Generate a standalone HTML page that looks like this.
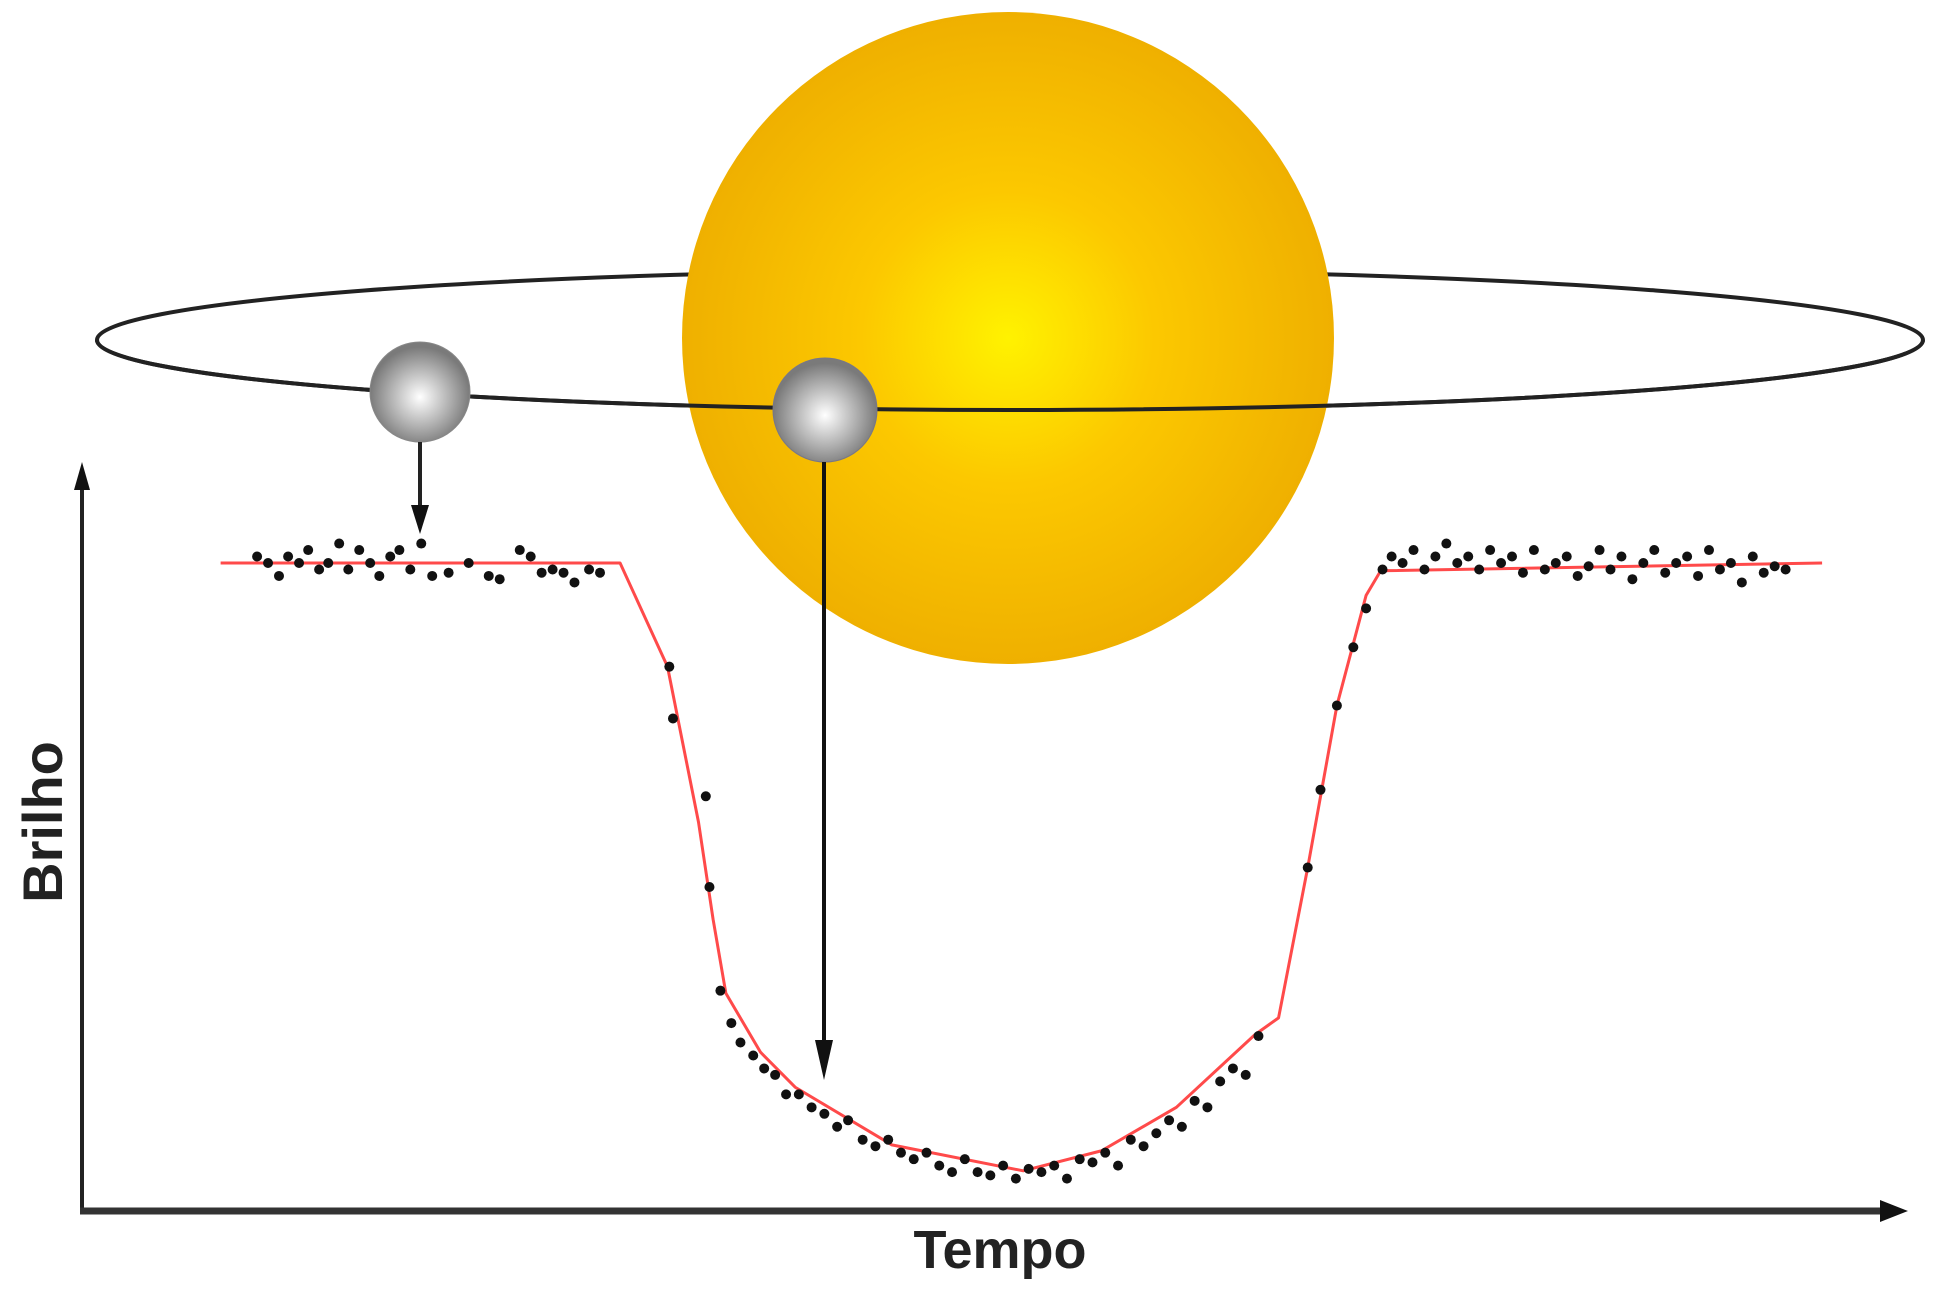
<!DOCTYPE html>
<html><head><meta charset="utf-8"><style>
html,body{margin:0;padding:0;background:#fff;}
svg{display:block;}
text{font-family:"Liberation Sans",sans-serif;font-weight:bold;fill:#222;}
</style></head><body>
<svg id="chart" width="1937" height="1304" viewBox="0 0 1937 1304">
<defs>
<radialGradient id="sunG" cx="0.5" cy="0.5" r="0.5">
<stop offset="0" stop-color="#fff200"/><stop offset="0.45" stop-color="#fcc800"/><stop offset="1" stop-color="#efb000"/>
</radialGradient>
<radialGradient id="plG" cx="0.5" cy="0.55" r="0.5">
<stop offset="0" stop-color="#ffffff"/><stop offset="0.6" stop-color="#b0b0b0"/><stop offset="1" stop-color="#7a7a7a"/>
</radialGradient>
</defs>
<ellipse cx="1010" cy="340" rx="913" ry="70" fill="none" stroke="#222" stroke-width="4"/>
<circle cx="1008" cy="338" r="326" fill="url(#sunG)"/>
<path d="M97,340 A913,70 0 0 0 1923,340" fill="none" stroke="#222" stroke-width="4"/>
<circle cx="420" cy="392" r="50" fill="url(#plG)" stroke="#888" stroke-width="1"/>
<circle cx="825" cy="410" r="52" fill="url(#plG)" stroke="#778" stroke-width="1"/>
<g>
<line x1="420" y1="442" x2="420" y2="510" stroke="#222" stroke-width="4"/>
<polygon points="411,505 429,505 420,534" fill="#111"/>
</g>
<g>
<line x1="824" y1="462" x2="824" y2="1050" stroke="#111" stroke-width="4"/>
<polygon points="815,1040 833,1040 824,1080" fill="#111"/>
</g>
<g>
<line x1="82" y1="478" x2="82" y2="1213" stroke="#222" stroke-width="4"/>
<polygon points="74,490 90,490 82,462" fill="#111"/>
</g>
<g>
<line x1="80" y1="1211" x2="1890" y2="1211" stroke="#333" stroke-width="7"/>
<polygon points="1880,1200 1880,1222 1908,1211" fill="#111"/>
</g>
<text x="1000" y="1268" font-size="54" text-anchor="middle">Tempo</text>
<text x="0" y="0" font-size="56" text-anchor="middle" transform="translate(62,822) rotate(-90)">Brilho</text>
<g id="plot"></g>
</svg>
<script>
// model curve (time, relative flux)
const modelT = [7.6, 29.5, 32.1, 33.8, 34.6, 35.3, 37.2, 39.1, 44.4, 51.6, 55.9, 60.0, 64.3, 65.6, 67.2, 68.8, 70.4, 71.2, 95.4];
const modelF = [1.0, 1.0, 0.84, 0.60, 0.45, 0.336, 0.245, 0.191, 0.102, 0.062, 0.093, 0.160, 0.272, 0.298, 0.53, 0.78, 0.95, 0.988, 1.0];
// observed points
const obsT = [9.6,10.2,10.8,11.3,11.9,12.4,13.0,13.5,14.1,14.6,15.2,15.8,16.3,16.9,17.4,18.0,18.6,19.2,20.1,21.2,22.3,22.9,24.0,24.6,25.2,25.8,26.4,27.0,27.8,28.4,
32.2,32.4,34.2,34.4,35.0,35.6,36.1,36.8,37.4,38.0,38.6,39.3,40.0,40.7,41.4,42.0,42.8,43.5,44.2,44.9,45.6,46.3,47.0,47.7,48.4,49.1,49.8,50.5,51.2,51.9,52.6,53.3,54.0,54.7,55.4,56.1,56.8,57.5,58.2,58.9,59.6,60.3,61.0,61.7,62.4,63.1,63.8,64.5,
67.2,67.9,68.8,69.7,70.4,71.3,71.8,72.4,73.0,73.6,74.2,74.8,75.4,76.0,76.6,77.2,77.8,78.4,79.0,79.6,80.2,80.8,81.4,82.0,82.6,83.2,83.8,84.4,85.0,85.6,86.2,86.8,87.4,88.0,88.6,89.2,89.8,90.4,91.0,91.6,92.2,92.8,93.4];
const obsF = [1.01,1.0,0.98,1.01,1.0,1.02,0.99,1.0,1.03,0.99,1.02,1.0,0.98,1.01,1.02,0.99,1.03,0.98,0.985,1.0,0.98,0.975,1.02,1.01,0.985,0.99,0.985,0.97,0.99,0.985,
0.84,0.76,0.64,0.50,0.34,0.29,0.26,0.24,0.22,0.21,0.18,0.18,0.16,0.15,0.13,0.14,0.11,0.10,0.11,0.09,0.08,0.09,0.07,0.06,0.08,0.06,0.055,0.07,0.05,0.065,0.06,0.07,0.05,0.08,0.075,0.09,0.07,0.11,0.10,0.12,0.14,0.13,0.17,0.16,0.20,0.22,0.21,0.27,
0.53,0.65,0.78,0.87,0.93,0.99,1.01,1.0,1.02,0.99,1.01,1.03,1.0,1.01,0.99,1.02,1.0,1.01,0.985,1.02,0.99,1.0,1.01,0.98,0.995,1.02,0.99,1.01,0.975,1.0,1.02,0.985,1.0,1.01,0.98,1.02,0.99,1.0,0.97,1.01,0.985,0.995,0.99];
const xS = t => 82 + t * 18.24;
const yS = f => 1211 - f * 648;
const NS = 'http://www.w3.org/2000/svg';
const plot = document.getElementById('plot');
const line = document.createElementNS(NS, 'polyline');
line.setAttribute('points', modelT.map((t, i) => xS(t) + ',' + yS(modelF[i])).join(' '));
line.setAttribute('fill', 'none');
line.setAttribute('stroke', '#ff4a4a');
line.setAttribute('stroke-width', '3');
line.setAttribute('stroke-linejoin', 'round');


plot.appendChild(line);
obsT.forEach((t, i) => {
  const c = document.createElementNS(NS, 'circle');
  c.setAttribute('cx', xS(t));
  c.setAttribute('cy', yS(obsF[i]));
  c.setAttribute('r', '5');
  c.setAttribute('fill', '#111');
  
  
  plot.appendChild(c);
});
</script>
</body></html>
